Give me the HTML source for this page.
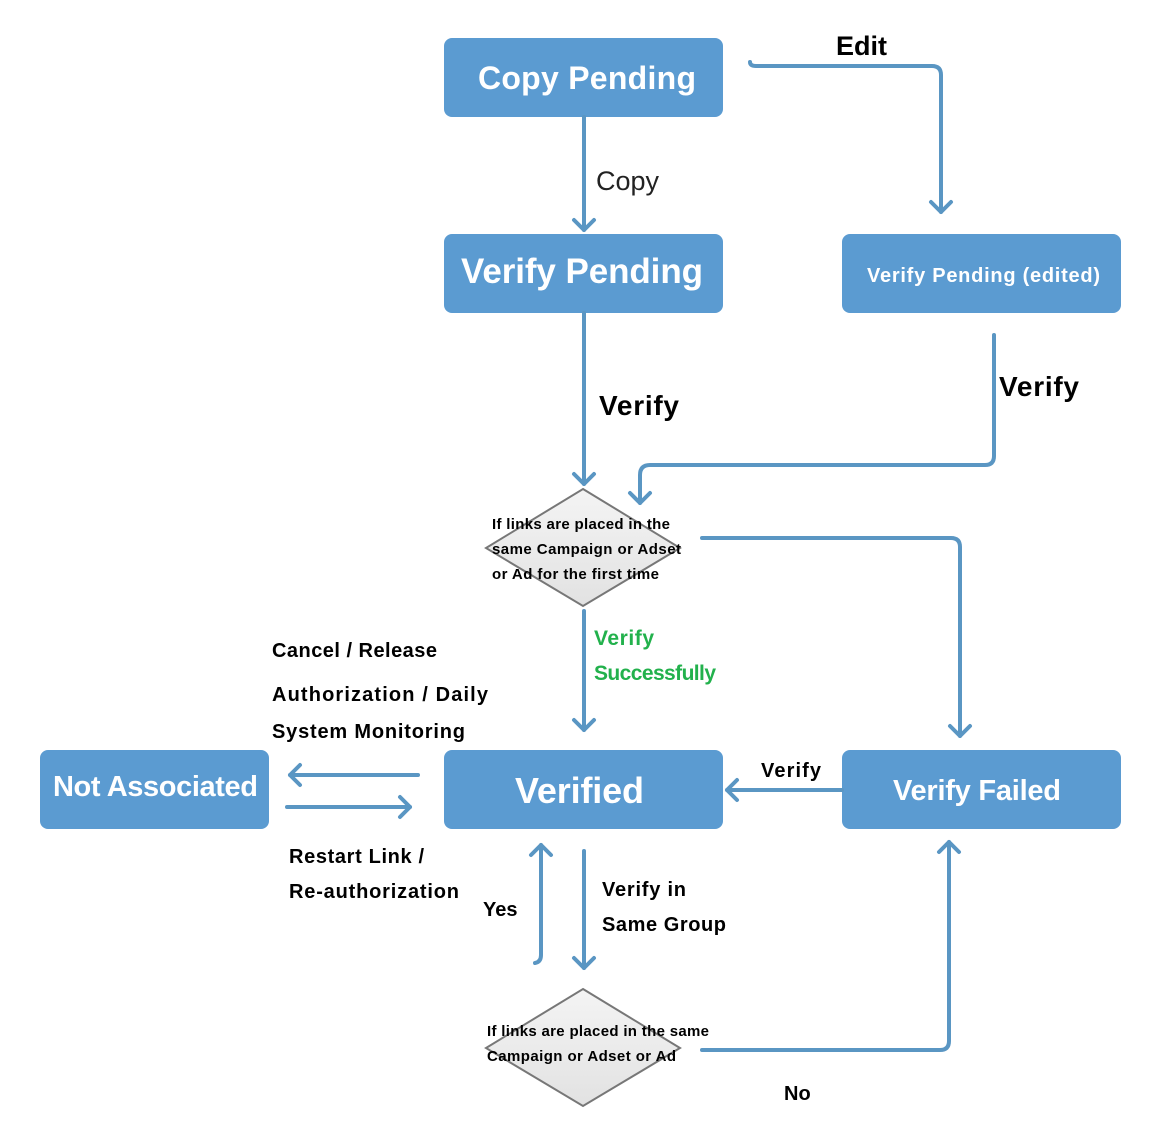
<!DOCTYPE html>
<html><head><meta charset="utf-8"><style>
body{margin:0;background:#fff;width:1174px;height:1142px;overflow:hidden}
svg{font-family:"Liberation Sans","DejaVu Sans",sans-serif;font-weight:bold}
</style></head><body>
<svg width="1174" height="1142" viewBox="0 0 1174 1142" xmlns="http://www.w3.org/2000/svg">
<defs><linearGradient id="g" x1="0" y1="0" x2="0" y2="1"><stop offset="0" stop-color="#f4f4f4"/><stop offset="1" stop-color="#e2e2e2"/></linearGradient></defs>
<g fill="#5b9bd1">
<rect x="444" y="38" width="279" height="79" rx="8"/>
<rect x="444" y="234" width="279" height="79" rx="8"/>
<rect x="842" y="234" width="279" height="79" rx="8"/>
<rect x="40" y="750" width="229" height="79" rx="8"/>
<rect x="444" y="750" width="279" height="79" rx="8"/>
<rect x="842" y="750" width="279" height="79" rx="8"/>
</g>
<polygon points="583,489 680,548 583,606 486,548" fill="url(#g)" stroke="#777" stroke-width="2"/>
<polygon points="583,989 680,1048 583,1106 486,1048" fill="url(#g)" stroke="#777" stroke-width="2"/>
<g fill="none" stroke="#5a96c3" stroke-width="4" stroke-linecap="round" stroke-linejoin="round">
<path d="M750,62 Q750,66 756,66 L932,66 Q941,66 941,75 L941,212"/><path d="M931,202 L941,212 L951,202"/>
<path d="M584,117 L584,230"/><path d="M574,220 L584,230 L594,220"/>
<path d="M584,313 L584,484"/><path d="M574,474 L584,484 L594,474"/>
<path d="M994,335 L994,456 Q994,465 985,465 L650,465 Q640,465 640,475 L640,503"/><path d="M630,493 L640,503 L650,493"/>
<path d="M702,538 L951,538 Q960,538 960,547 L960,736"/><path d="M950,726 L960,736 L970,726"/>
<path d="M584,611 L584,730"/><path d="M574,720 L584,730 L594,720"/>
<path d="M842,790 L727,790"/><path d="M737,780 L727,790 L737,800"/>
<path d="M418,775 L290,775"/><path d="M300,765 L290,775 L300,785"/>
<path d="M287,807 L410,807"/><path d="M400,797 L410,807 L400,817"/>
<path d="M535,963 Q541,962 541,955 L541,845"/><path d="M531,855 L541,845 L551,855"/>
<path d="M584,851 L584,968"/><path d="M574,958 L584,968 L594,958"/>
<path d="M702,1050 L940,1050 Q949,1050 949,1041 L949,842"/><path d="M939,852 L949,842 L959,852"/>
</g>
<g fill="#fff">
<text x="478" y="89" font-size="32" textLength="218">Copy Pending</text>
<text x="461" y="283" font-size="35" textLength="242">Verify Pending</text>
<text x="867" y="282" font-size="20" textLength="233">Verify Pending (edited)</text>
<text x="53" y="796" font-size="29" textLength="205">Not Associated</text>
<text x="515" y="803" font-size="36" textLength="129">Verified</text>
<text x="893" y="800" font-size="29" textLength="168">Verify Failed</text>
</g>
<g fill="#000">
<text x="836" y="55" font-size="27">Edit</text>
<text x="596" y="190" font-size="27" font-weight="normal" fill="#222">Copy</text>
<text x="599" y="415" font-size="28" textLength="80">Verify</text>
<text x="999" y="396" font-size="28" textLength="80">Verify</text>
<text x="492" y="529" font-size="15" textLength="178">If links are placed in the</text>
<text x="492" y="554" font-size="15" textLength="189">same Campaign or Adset</text>
<text x="492" y="579" font-size="15" textLength="167">or Ad for the first time</text>
<text x="272" y="657" font-size="20" textLength="165">Cancel / Release</text>
<text x="272" y="701" font-size="20" textLength="216">Authorization /  Daily</text>
<text x="272" y="738" font-size="20" textLength="193">System Monitoring</text>
<text x="761" y="777" font-size="20" textLength="60">Verify</text>
<text x="289" y="863" font-size="20" textLength="135">Restart Link /</text>
<text x="289" y="898" font-size="20" textLength="170">Re-authorization</text>
<text x="483" y="916" font-size="20">Yes</text>
<text x="602" y="896" font-size="20" textLength="84">Verify in</text>
<text x="602" y="931" font-size="20" textLength="124">Same Group</text>
<text x="487" y="1036" font-size="15" textLength="222">If links are placed in the same</text>
<text x="487" y="1061" font-size="15" textLength="189">Campaign or Adset or Ad</text>
<text x="784" y="1100" font-size="20">No</text>
</g>
<g fill="#22b14c" font-size="21">
<text x="594" y="645" textLength="60">Verify</text>
<text x="594" y="680" textLength="122">Successfully</text>
</g>
</svg>
</body></html>
